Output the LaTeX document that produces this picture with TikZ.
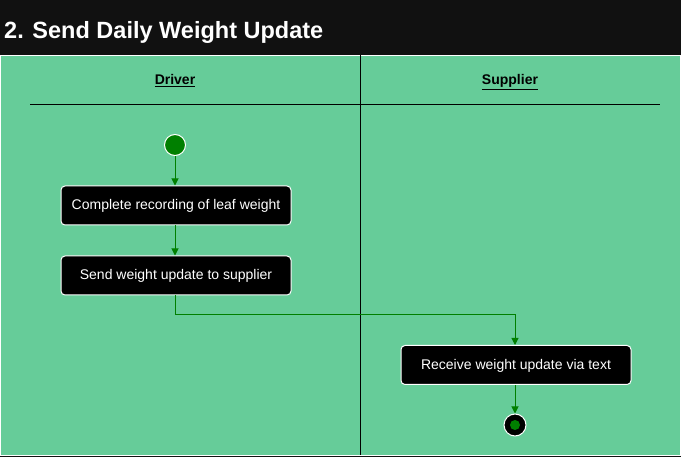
\documentclass[tikz,border=0pt]{standalone}
\usepackage{fontspec}
\setmainfont{Liberation Sans}
\usetikzlibrary{arrows.meta}
\definecolor{bgdark}{HTML}{111111}
\definecolor{lane}{HTML}{66CC99}
\definecolor{flow}{HTML}{007F00}
\begin{document}
\begin{tikzpicture}[x=1pt,y=-1pt,
  act/.style={draw=white, line width=1pt, fill=black, rounded corners=4pt, minimum width=230pt, minimum height=39pt, text=white, font=\fontsize{14}{16}\selectfont, inner sep=0pt, text height=10pt, text depth=1.5pt},
  flowline/.style={draw=flow, line width=1pt, -{Triangle[width=7pt,length=7pt]}},
  hdr/.style={font=\bfseries\fontsize{14}{16}\selectfont, text=black, anchor=base, inner sep=0pt}]
\useasboundingbox (0,0) rectangle (681,457);
\fill[bgdark] (0,0) rectangle (681,457);
\node[anchor=base west, text=white, font=\bfseries\fontsize{23.5}{27}\selectfont, inner sep=0pt] (title) at (4,38.5) {2. Send Daily Weight Update};
\draw[fill=lane, draw=white, line width=1pt] (0.5,55.5) rectangle (680.5,455);
\draw[black, line width=1pt] (360,55.5) -- (360,455);
\draw[black, line width=1pt] (30,105) -- (660,105);
\node[hdr] (driver) at (175,85) {\underline{Driver}};
\node[hdr] (supplier) at (510,85) {\underline{Supplier}};
\node[circle, fill=flow, draw=white, line width=1pt, minimum size=21pt, inner sep=0pt] (start) at (175,145) {};
\node[act] (a1) at (176,205.5) {Complete recording of leaf weight};
\node[act] (a2) at (176,275.5) {Send weight update to supplier};
\node[act] (a3) at (516,365) {Receive weight update via text};
\node[circle, fill=black, draw=white, line width=1pt, minimum size=22pt, inner sep=0pt] (end) at (515,425) {};
\node[circle, fill=flow, minimum size=10pt, inner sep=0pt] (endin) at (515,425) {};
\coordinate (c2) at (515,315);
\draw[flowline] (start) -- (a1.north -| start);
\draw[flowline] (a1.south -| start) -- (a2.north -| start);
\draw[flowline] (a2.south -| start) |- (c2) -- (a3.north -| c2);
\draw[flowline] (a3.south -| end) -- (end);
\end{tikzpicture}
\end{document}
